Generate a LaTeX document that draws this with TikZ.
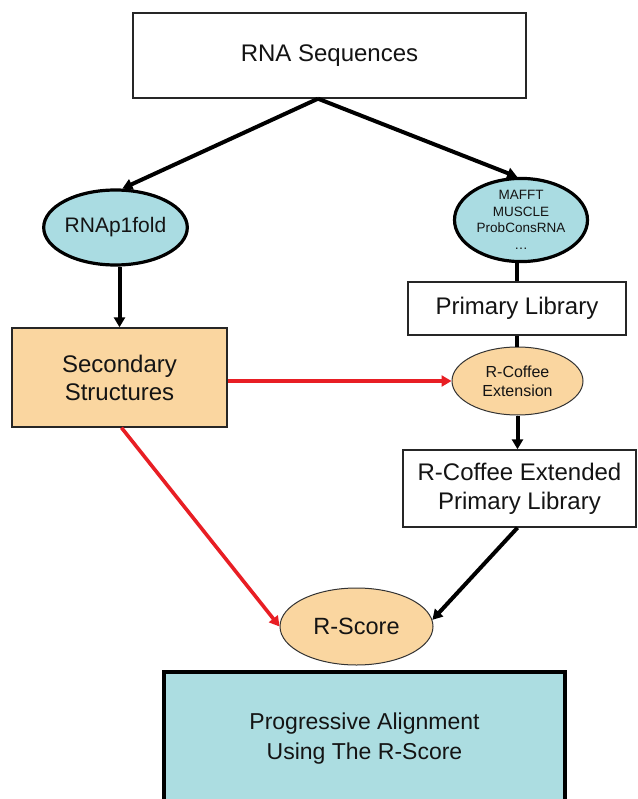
\documentclass[tikz,border=0pt]{standalone}
\usepackage{fontspec}
\setmainfont{Liberation Sans}
\usetikzlibrary{shapes.geometric,arrows.meta}
\definecolor{tealfill}{RGB}{170,220,226}
\definecolor{progfill}{RGB}{172,221,225}
\definecolor{orangefill}{RGB}{250,214,160}
\definecolor{redline}{RGB}{232,30,36}
\definecolor{txt}{RGB}{20,20,20}
\begin{document}
\begin{tikzpicture}[x=1pt,y=-1pt,
  box/.style={draw=black!85,line width=1.4pt,rectangle,inner sep=0pt,align=center,text=txt},
  tealell/.style={ellipse,draw=black,line width=3.2pt,fill=tealfill,inner sep=0pt,align=center,text=txt},
  orell/.style={ellipse,draw=black!80,line width=1pt,fill=orangefill,inner sep=0pt,align=center,text=txt},
  blackarrow/.style={line width=4pt,-{Triangle[length=10pt,width=11pt]}},
  plainline/.style={line width=4pt},
  redarrow/.style={draw=redline,line width=3.6pt,-{Triangle[length=10pt,width=11pt]}},
  big/.style={font=\fontsize{24}{28}\selectfont}
]
\useasboundingbox (0,0) rectangle (637,799);
\fill[white] (0,0) rectangle (637,799);

\node[box,big,minimum width=393pt,minimum height=85pt] (seq) at (329.5,55.5) {RNA Sequences};
\node[tealell,font=\fontsize{21}{24}\selectfont,minimum width=133pt,minimum height=75pt] (fold) at (115.5,227.5) {RNAp1fold};
\node[tealell,font=\fontsize{13.5}{16.5}\selectfont,minimum width=133pt,minimum height=80pt] (maf) at (521,220) {MAFFT\\MUSCLE\\ProbConsRNA\\\dots};
\node[box,big,fill=orangefill,minimum width=215pt,minimum height=99pt] (sec) at (119.5,377.5) {Secondary\\Structures};
\node[box,big,minimum width=218pt,minimum height=53pt] (prim) at (517,308.5) {Primary Library};
\node[orell,font=\fontsize{16}{19}\selectfont,minimum width=131pt,minimum height=68pt] (ext) at (517.5,381) {R-Coffee\\Extension};
\node[box,font=\fontsize{24}{29}\selectfont,minimum width=233pt,minimum height=77pt] (extp) at (519.5,488.5) {R-Coffee Extended\\Primary Library};
\node[orell,font=\fontsize{23.5}{28}\selectfont,minimum width=153pt,minimum height=77pt] (score) at (356.5,626.5) {R-Score};
\node[rectangle,draw=black,line width=4pt,fill=progfill,inner sep=0pt,align=center,text=txt,font=\fontsize{23}{30}\selectfont,minimum width=401pt,minimum height=134pt] (prog) at (364.5,739) {Progressive Alignment\\Using The R-Score};

\draw[blackarrow] ([xshift=-11.5pt]seq.south) -- (fold.80);
\draw[blackarrow] ([xshift=-11.5pt]seq.south) -- (maf.95);
\draw[blackarrow] (fold.south -| sec.north) -- (sec.north);
\draw[plainline] (prim.north |- maf.south) -- (prim.north);
\draw[plainline] (prim.south) -- (prim.south |- ext.north);
\draw[blackarrow] (ext.south) -- (ext.south |- extp.north);
\draw[blackarrow] ([xshift=-2pt]extp.south) -- (score.5);
\draw[redarrow] (sec.east |- ext.west) -- (ext.west);
\draw[redarrow] ([xshift=2pt]sec.south) -- (score.west);
\end{tikzpicture}
\end{document}
